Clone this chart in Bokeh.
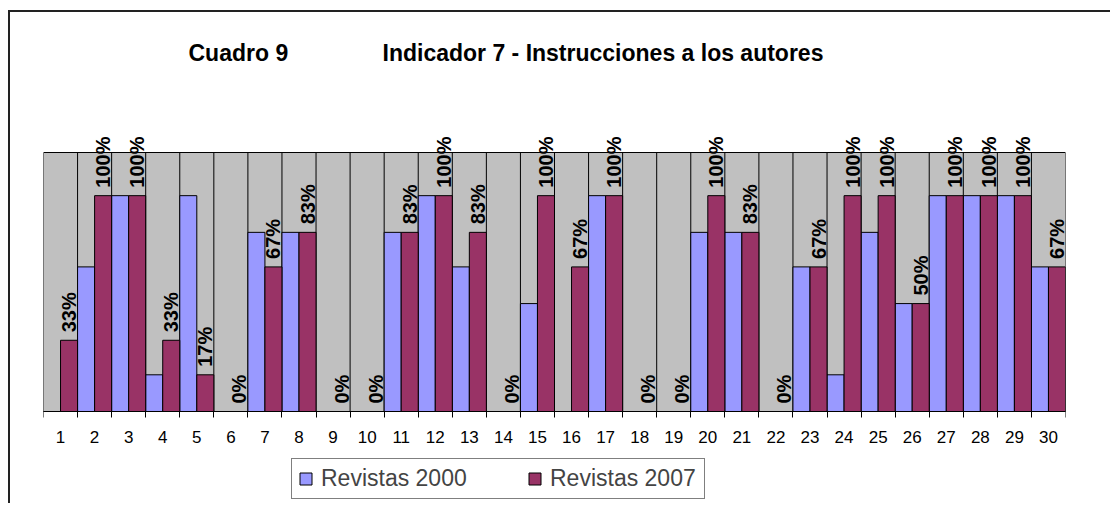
import math
from bokeh.plotting import figure
from bokeh.models import ColumnDataSource, FixedTicker, LabelSet, Label, Legend, LegendItem
from bokeh.core.properties import value
from bokeh.embed import file_html
from bokeh.resources import INLINE

# ---- data ----
categories = list(range(1, 31))
tick_labels = [str(c) for c in categories]
series_names = ["Revistas 2000", "Revistas 2007"]
revistas_2000 = [0, 67, 100, 17, 100, 0, 83, 83, 0, 0, 83, 100, 67, 0, 50,
                 0, 100, 0, 0, 83, 83, 0, 67, 17, 83, 50, 100, 100, 100, 67]
revistas_2007 = [33, 100, 100, 33, 17, 0, 67, 83, 0, 0, 83, 100, 83, 0, 100,
                 67, 100, 0, 0, 100, 83, 0, 67, 100, 100, 50, 100, 100, 100, 67]
title_left = "Cuadro 9"
title_right = "Indicador 7 - Instrucciones a los autores"

BLUE = "#9999FF"
RED = "#993366"
GRAY = "#C0C0C0"
FONT = "Liberation Sans, Arial, Helvetica, sans-serif"

PLOT_MAX = 120          # top of the grey plot area, in percent
PLOT_PX = 259           # height of the grey plot area in pixels
ABOVE_PX = 124          # room above the plot area (title, labels)
BELOW_PX = 92           # room below the plot area (tick labels, legend)
FRAME_H = PLOT_PX + ABOVE_PX + BELOW_PX
Y_END = PLOT_MAX * (PLOT_PX + ABOVE_PX) / PLOT_PX
Y_START = -PLOT_MAX * BELOW_PX / PLOT_PX
X_LO = categories[0] - 0.5
X_HI = categories[-1] + 0.5

src = ColumnDataSource(dict(
    x2000=[c - 0.25 for c in categories],
    x2007=[c + 0.25 for c in categories],
    v2000=revistas_2000,
    v2007=revistas_2007,
    lab=[f"{v}%" for v in revistas_2007],
))
bounds = [c + 0.5 for c in categories[:-1]]
grid_src = ColumnDataSource(dict(x=bounds, y0=[0] * len(bounds), y1=[PLOT_MAX] * len(bounds)))

p = figure(frame_width=1022, frame_height=FRAME_H,
           min_border_left=33, min_border_right=45,
           min_border_top=16, min_border_bottom=0,
           x_range=(X_LO, X_HI), y_range=(Y_START, Y_END),
           output_backend="svg", toolbar_location=None)
p.background_fill_color = "white"
p.border_fill_color = "white"
p.outline_line_color = None
p.styles = {"border-left": "2px solid #222222", "border-top": "2px solid #222222",
            "margin-top": "10px", "margin-left": "8px"}

# grey plot area
p.quad(left=[X_LO], right=[X_HI], bottom=[0], top=[PLOT_MAX],
       fill_color=GRAY, line_color=None)
# vertical category gridlines
p.segment(x0="x", x1="x", y0="y0", y1="y1", source=grid_src,
          line_color="black", line_width=1)

r1 = p.vbar(x="x2000", top="v2000", bottom=0, width=0.5, source=src,
            fill_color=BLUE, line_color="black", line_width=1)
r2 = p.vbar(x="x2007", top="v2007", bottom=0, width=0.5, source=src,
            fill_color=RED, line_color="black", line_width=1)

# plot area border
p.quad(left=[X_LO], right=[X_HI], bottom=[0], top=[PLOT_MAX],
       fill_color=None, line_color="black", line_width=1)

ticker = FixedTicker(ticks=categories, minor_ticks=[X_LO] + bounds + [X_HI])
xa = p.xaxis[0]
xa.fixed_location = 0
xa.ticker = ticker
xa.major_label_overrides = {c: t for c, t in zip(categories, tick_labels)}
xa.major_tick_out = 0
xa.major_tick_in = 0
xa.minor_tick_out = 6
xa.minor_tick_in = 0
xa.minor_tick_line_color = "black"
xa.axis_line_color = "black"
xa.major_label_standoff = 13
xa.major_label_text_font = FONT
xa.major_label_text_font_size = "17px"
xa.major_label_text_color = "black"
p.xgrid.grid_line_color = None
p.yaxis.visible = False
p.ygrid.grid_line_color = None

labels = LabelSet(x="x2007", y="v2007", text="lab", source=src,
                  angle=math.pi / 2, text_align="left", text_baseline="middle",
                  y_offset=8, text_font=value(FONT), text_font_style="bold",
                  text_font_size="20px", text_color="black")
p.add_layout(labels)

p.add_layout(Label(x=145, y=359 + BELOW_PX, x_units="screen", y_units="screen",
                   text=title_left, text_font=FONT, text_font_style="bold",
                   text_font_size="23px", text_baseline="alphabetic", text_color="black"))
p.add_layout(Label(x=339, y=359 + BELOW_PX, x_units="screen", y_units="screen",
                   text=title_right, text_font=FONT, text_font_style="bold",
                   text_font_size="23px", text_baseline="alphabetic", text_color="black"))

legend = Legend(items=[LegendItem(label=series_names[0], renderers=[r1]),
                       LegendItem(label=series_names[1], renderers=[r2])],
                orientation="horizontal", location=(248, 4),
                padding=6, spacing=58, label_standoff=8,
                glyph_width=15, glyph_height=15, label_height=21, label_width=148,
                label_text_font=FONT, label_text_font_size="23px",
                border_line_color="black", border_line_width=1,
                background_fill_color="white", background_fill_alpha=1, margin=0)
p.add_layout(legend, "center")

open("out.html", "w").write(file_html(p, INLINE))
